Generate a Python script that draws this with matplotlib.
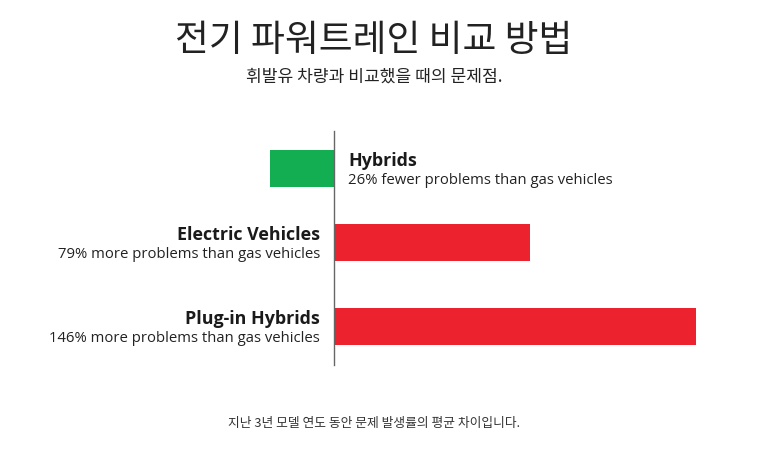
import matplotlib
matplotlib.use("Agg")
import matplotlib.pyplot as plt

# data
categories = ["Hybrids", "Electric Vehicles", "Plug-in Hybrids"]
values = [-26, 79, 146]
notes = ["26% fewer problems than gas vehicles",
         "79% more problems than gas vehicles",
         "146% more problems than gas vehicles"]
title = "전기 파워트레인 비교 방법"
subtitle = "휘발유 차량과 비교했을 때의 문제점."
footer = "지난 3년 모델 연도 동안 문제 발생률의 평균 차이입니다."

GREEN = "#14AE52"
RED = "#EC222E"
KR = ["Noto Sans CJK KR", "DejaVu Sans"]
LAT = ["Open Sans", "DejaVu Sans"]

W, H = 774, 449
fig = plt.figure(figsize=(W / 100, H / 100), dpi=100)

# axes covers whole figure; x in data units, y in pixel rows
px_per_unit = 2.48
zero_px = 334
ax = fig.add_axes([0, 0, 1, 1])
ax.set_xlim(-zero_px / px_per_unit, (W - zero_px) / px_per_unit)
ax.set_ylim(H, 0)
ax.axis("off")

row_y = [168.5, 242.5, 326.5]
bar_h = 37
colors = [GREEN if v < 0 else RED for v in values]
ax.barh(row_y, values, height=bar_h, color=colors, zorder=2)
ax.plot([0, 0], [131, 365], color="#666666", lw=1, zorder=3)

pad = 14 / px_per_unit
for y, cat, v, note in zip(row_y, categories, values, notes):
    if v < 0:
        x, ha = pad, "left"
    else:
        x, ha = -pad, "right"
    ax.text(x, y - 7.5, cat, ha=ha, va="center", fontsize=12.9,
            fontweight="bold", family=LAT, color="#1a1a1a")
    ax.text(x, y + 12.5, note, ha=ha, va="center", fontsize=10.7,
            family=LAT, color="#222222")

fig.text(374 / W, 1 - 40 / H, title, ha="center", va="center",
         fontsize=26.5, family=KR, fontweight="light", color="#222222")
fig.text(374 / W, 1 - 77 / H, subtitle, ha="center", va="center",
         fontsize=12.3, family=KR, color="#222222")
fig.text(374 / W, 1 - 423 / H, footer, ha="center", va="center",
         fontsize=9.2, family=KR, color="#333333")

fig.savefig("out.png", dpi=100)
